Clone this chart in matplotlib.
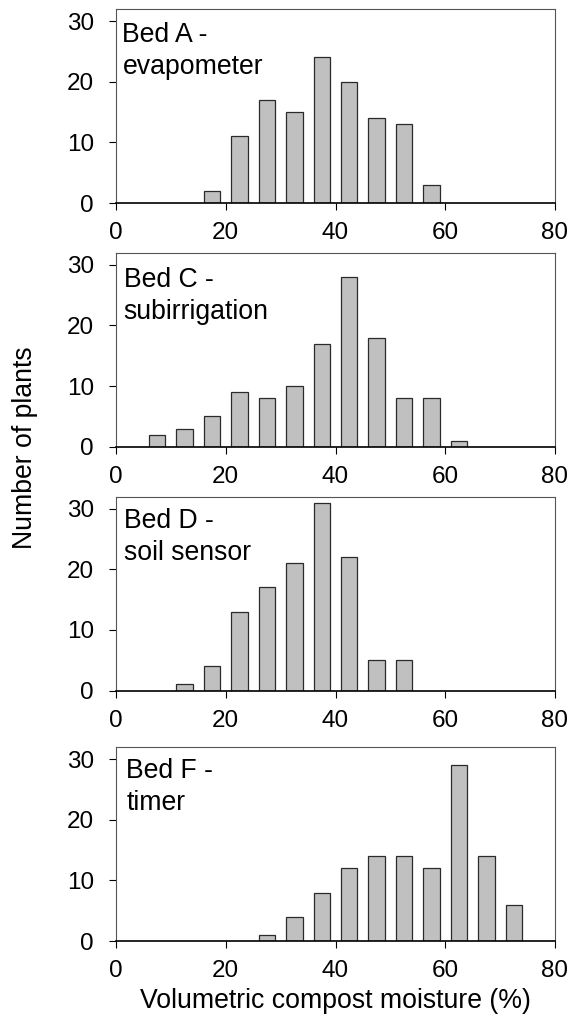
import matplotlib
matplotlib.use("Agg")
import matplotlib.pyplot as plt
import numpy as np

plt.rcParams['font.family'] = ['Liberation Sans', 'DejaVu Sans']

bin_centers = [7.5, 12.5, 17.5, 22.5, 27.5, 32.5, 37.5, 42.5, 47.5, 52.5, 57.5, 62.5, 67.5, 72.5]
bed_a = [0, 0, 2, 11, 17, 15, 24, 20, 14, 13, 3, 0, 0, 0]
bed_c = [2, 3, 5, 9, 8, 10, 17, 28, 18, 8, 8, 1, 0, 0]
bed_d = [0, 1, 4, 13, 17, 21, 31, 22, 5, 5, 0, 0, 0, 0]
bed_f = [0, 0, 0, 0, 1, 4, 8, 12, 14, 14, 12, 29, 14, 6]
panel_labels = ["Bed A -\nevapometer", "Bed C -\nsubirrigation", "Bed D -\nsoil sensor", "Bed F -\ntimer"]
x_ticks = [0, 20, 40, 60, 80]
y_ticks = [0, 10, 20, 30]
x_label = "Volumetric compost moisture (%)"
y_label = "Number of plants"

series = [bed_a, bed_c, bed_d, bed_f]

W, H = 569, 1021
fig = plt.figure(figsize=(W / 100, H / 100), dpi=100)
ax_left_px, ax_right_px = 116, 555
tops_bottoms = [(9, 203), (252.7, 446.7), (496.5, 690.5), (747, 941)]
text_offsets = [(6.5, 13.0), (7.5, 14.3), (7.5, 11.5), (10.5, 11.0)]  # px from axes top-left
fs = 19.2
tick_fs = 17.5

axes = []
for (top, bot), counts, lab, (dx, dy) in zip(tops_bottoms, series, panel_labels, text_offsets):
    ax = fig.add_axes([ax_left_px / W, 1 - bot / H, (ax_right_px - ax_left_px) / W, (bot - top) / H])
    xs = np.array(bin_centers)
    ys = np.array(counts)
    m = ys > 0
    ax.bar(xs[m], ys[m], width=3.0, color='#c0c0c0', edgecolor='#2a2a2a', linewidth=0.9, zorder=2)
    ax.set_xlim(0, 80)
    ax.set_ylim(0, 32)
    ax.set_xticks(x_ticks)
    ax.set_yticks(y_ticks)
    ax.tick_params(axis='both', direction='out', length=5, width=0.8, labelsize=tick_fs, colors='black')
    ax.tick_params(axis='x', pad=9)
    ax.tick_params(axis='y', pad=11)
    for s in ['top', 'right', 'left']:
        ax.spines[s].set_color('#555555')
        ax.spines[s].set_linewidth(0.8)
    ax.spines['bottom'].set_color('black')
    ax.spines['bottom'].set_linewidth(1.2)
    ax_w = ax_right_px - ax_left_px
    ax_h = bot - top
    ax.text(dx / ax_w, 1 - dy / ax_h, lab, transform=ax.transAxes, ha='left', va='top',
            fontsize=fs, linespacing=1.3)
    axes.append(ax)

axes[-1].set_xlabel(x_label, fontsize=fs, labelpad=4)
fig.text(25 / W, 1 - 448 / H, y_label, rotation=90, ha='center', va='center', fontsize=fs)

fig.savefig("out.png", dpi=100)
